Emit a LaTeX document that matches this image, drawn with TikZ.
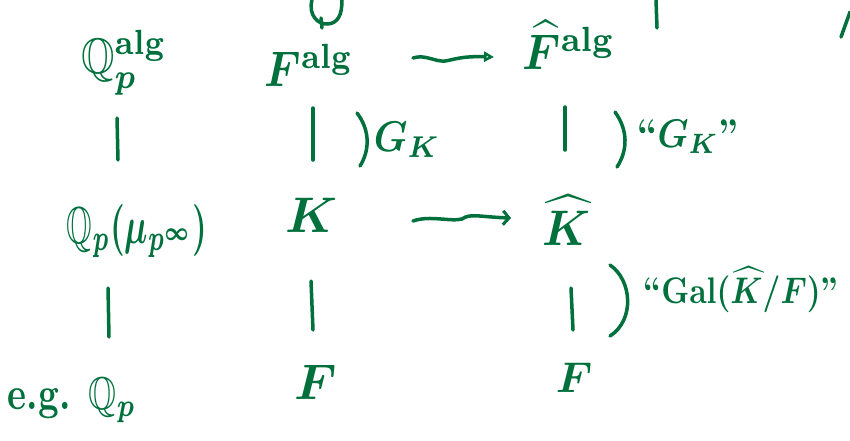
\documentclass[tikz,border=0pt]{standalone}
\usepackage{amsmath,amssymb}
\usepackage{graphicx}
\usetikzlibrary{arrows.meta,calc}
\definecolor{ink}{RGB}{0,112,60}
\newcommand{\hw}[3]{\scalebox{#1}[#2]{\boldmath\bfseries #3}}
\begin{document}
\begin{tikzpicture}[x=1pt,y=-1pt, line cap=round, line join=round,
  ln/.style={draw=ink, line width=3.5pt},
  lbl/.style={text=ink, inner sep=0pt, outer sep=0pt}]
\useasboundingbox (0,0) rectangle (850,440);
% row 1
\node[lbl] (qalg) at (124,63) {\hw{4.3}{5}{$\mathbb{Q}_p^{\mathrm{alg}}$}};
\node[lbl] (falg) at (309,65) {\hw{4.3}{5}{$F^{\mathrm{alg}}$}};
\node[lbl] (fhat) at (569,45) {\hw{4.5}{5}{$\widehat{F}^{\mathrm{alg}}$}};
% row 2 labels
\node[lbl] (gk) at (407,140) {\hw{3.8}{4.3}{$G_K$}};
\node[lbl] (gkq) at (688,137) {\hw{3.5}{4}{``$G_K$''}};
% row 3
\node[lbl] (qmu) at (137,231) {\hw{3.3}{5.2}{$\mathbb{Q}_p(\mu_{p^\infty})$}};
\node[lbl] (k) at (312,215) {\hw{5}{5}{$K$}};
\node[lbl] (khat) at (566,220) {\hw{4.6}{5}{$\widehat{K}$}};
% row 4 label
\node[lbl] (gal) at (741,290) {\hw{3.1}{3.7}{``$\mathrm{Gal}(\widehat{K}/F)$''}};
% row 5
\node[lbl] (qp) at (72,400) {\hw{3.6}{4.6}{e.g. $\mathbb{Q}_p$}};
\node[lbl] (f) at (316,382) {\hw{5}{5}{$F$}};
\node[lbl] (fr) at (574,378) {\hw{4.3}{4.3}{$F$}};
% line ends
\coordinate (v1a) at (117,118); \coordinate (v1b) at (118,160);
\coordinate (v2a) at (313,108); \coordinate (v2b) at (313,160);
\coordinate (v3a) at (565,107); \coordinate (v3b) at (565,150);
\coordinate (v4a) at (108,288); \coordinate (v4b) at (109,337);
\coordinate (v5a) at (311,281); \coordinate (v5b) at (313,330);
\coordinate (v6a) at (571,288); \coordinate (v6b) at (573,330);
% vertical inclusions
\draw[ln] (v1a) -- (v1b);
\draw[ln] (v2a) -- (v2b);
\draw[ln] (v3a) -- (v3b);
\draw[ln] (v4a) -- (v4b);
\draw[ln] (v5a) -- (v5b);
\draw[ln] (v6a) -- (v6b);
% brackets
\draw[ln] (357,113) .. controls (370,130) and (370,150) .. (360,166);
\draw[ln] (615,112) .. controls (628,130) and (628,150) .. (617,167);
\draw[ln] (610,265) .. controls (632,280) and (635,320) .. (610,336);
% wiggly arrows
\coordinate (a1s) at (413,58);
\coordinate (a1e) at (494,57);
\draw[ln, -{Triangle[open, length=10pt, width=10pt, line width=2.5pt]}] (a1s) .. controls (425,54) and (435,62) .. (445,61) .. controls (453,60) and (460,56) .. (a1e);
\coordinate (a2s) at (413,221);
\coordinate (a2e) at (511,218);
\draw[ln, -{Straight Barb[length=6pt, width=14pt, line width=3pt]}] (a2s) .. controls (430,215) and (450,222) .. (462,219) .. controls (470,213) and (480,217) .. (a2e);
% fragments at top edge
\draw[ln] (312,0) .. controls (308,15) and (318,25) .. (328,24) .. controls (338,23) and (342,15) .. (342,0);
\draw[ln] (321,18) -- (322,28);
\draw[ln] (656,0) -- (657,28);
\draw[ln] (850,12) -- (841,37);
\end{tikzpicture}
\end{document}
